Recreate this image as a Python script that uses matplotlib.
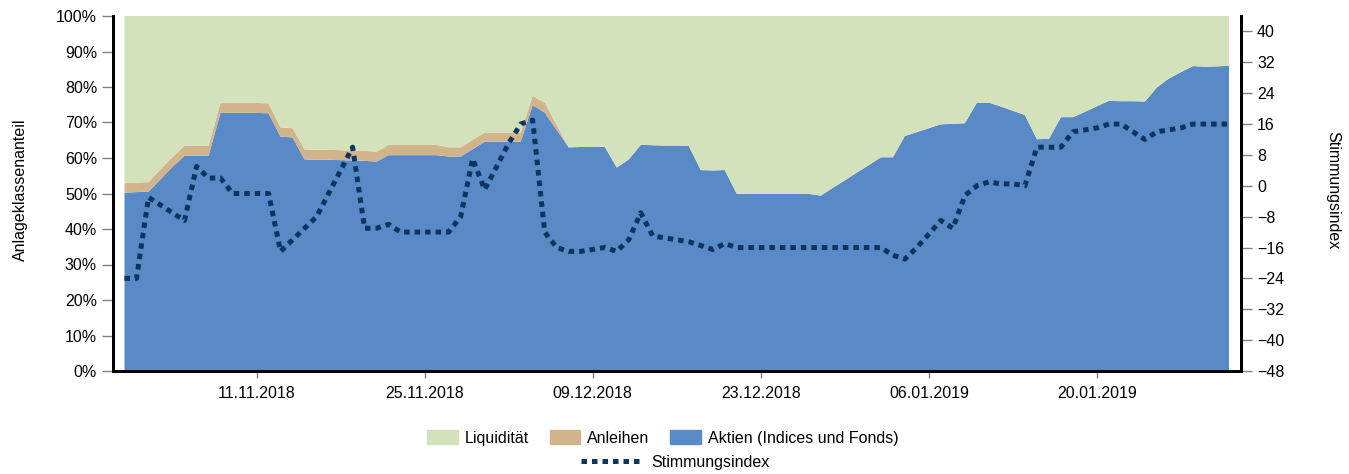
import matplotlib
matplotlib.use("Agg")
import matplotlib.pyplot as plt
import matplotlib.dates as mdates
from matplotlib.patches import Patch
from matplotlib.lines import Line2D
import numpy as np
import pandas as pd

plt.rcParams['font.family'] = ['Liberation Sans', 'DejaVu Sans']

dates = pd.date_range('2018-10-31', '2019-01-31', freq='D')

aktien = [50.2, 50.4, 50.5, 54.0, 57.5, 60.6, 60.6, 60.6, 72.8, 72.8,
          72.8, 72.7, 72.6, 66.0, 65.8, 59.6, 59.5, 59.5, 59.4, 59.3,
          59.2, 59.0, 60.8, 60.8, 60.8, 60.8, 60.8, 60.4, 60.4, 62.5,
          64.6, 64.6, 64.6, 64.6, 74.9, 72.8, 67.9, 63.0, 63.1, 63.1,
          63.2, 57.3, 59.6, 63.7, 63.6, 63.5, 63.5, 63.4, 56.6, 56.5,
          56.6, 49.9, 49.9, 49.9, 49.9, 49.9, 49.9, 49.9, 49.4, 51.6,
          53.7, 55.9, 58.0, 60.2, 60.2, 66.2, 67.3, 68.4, 69.5, 69.6,
          69.8, 75.6, 75.6, 74.5, 73.3, 72.1, 65.3, 65.4, 71.5, 71.5,
          73.0, 74.6, 76.1, 76.0, 76.0, 75.9, 79.9, 82.4, 84.2, 85.9,
          85.7, 85.8, 86.0]

anleihen = [2.7, 2.7, 2.7, 2.8, 2.8, 2.8, 2.8, 2.8, 2.8, 2.8,
            2.8, 2.8, 2.8, 2.6, 2.6, 2.8, 2.8, 2.8, 2.8, 2.8,
            2.8, 2.8, 2.9, 2.9, 2.9, 2.9, 2.9, 2.6, 2.6, 2.6,
            2.6, 2.6, 2.6, 2.6, 2.6, 2.8, 1.4, 0, 0, 0,
            0, 0, 0, 0, 0, 0, 0, 0, 0, 0,
            0, 0, 0, 0, 0, 0, 0, 0, 0, 0,
            0, 0, 0, 0, 0, 0, 0, 0, 0, 0,
            0, 0, 0, 0, 0, 0, 0, 0, 0, 0,
            0, 0, 0, 0, 0, 0, 0, 0, 0, 0,
            0, 0, 0]

liquiditaet = [100 - a - b for a, b in zip(aktien, anleihen)]

stimmung = [-24, -24, -3, -5, -7, -9, 5, 2, 2, -2,
            -2, -2, -2, -17, -14, -11, -8, -2, 4, 10,
            -11, -11, -10, -12, -12, -12, -12, -12, -8, 7,
            -1, 5, 11, 16, 17, -12, -16, -17, -17, -16.5,
            -16, -17, -14, -7, -13, -13.5, -14, -14.5, -15.5, -16.5,
            -15, -16, -16, -16, -16, -16, -16, -16, -16, -16,
            -16, -16, -16, -16, -18, -19, -16, -12.5, -9, -11,
            -2.5, 0, 1, 0.5, 0.5, 0, 10, 10, 10, 14,
            14.5, 15, 16, 16, 14, 12, 14, 14.5, 15, 16,
            16, 16, 16]

tick_dates = ['2018-11-11', '2018-11-25', '2018-12-09', '2018-12-23', '2019-01-06', '2019-01-20']

c_liq = '#D4E2BC'
c_anl = '#D2B48B'
c_akt = '#5A8AC6'
c_line = '#0B3561'

fig = plt.figure(figsize=(13.49, 4.74), dpi=100)
ax = fig.add_axes([113/1349, 1-371/474, (1241-113)/1349, (371-16)/474])

ax.stackplot(dates, aktien, anleihen, liquiditaet, colors=[c_akt, c_anl, c_liq], linewidth=0)
ax.set_ylim(0, 100)
ax.set_xlim(dates[0] - pd.Timedelta(hours=23), dates[-1] + pd.Timedelta(days=1))
ax.set_yticks(np.arange(0, 101, 10))
ax.set_yticklabels([f'{v}%' for v in range(0, 101, 10)])
ax.set_xticks(pd.to_datetime(tick_dates))
ax.xaxis.set_major_formatter(mdates.DateFormatter('%d.%m.%Y'))
ax.tick_params(axis='both', labelsize=11.5, color='#808080', length=8, width=1)
ax.tick_params(axis='x', length=5, pad=6)
ax.set_ylabel('Anlageklassenanteil', fontsize=11.5)
ax.yaxis.set_label_coords(-0.075, 0.51)

for s in ['left', 'bottom', 'right']:
    ax.spines[s].set_linewidth(2)
    ax.spines[s].set_color('black')
ax.spines['top'].set_visible(False)

ax2 = ax.twinx()
ax2.plot(dates, stimmung, color=c_line, linewidth=3.6, linestyle=(0, (1.1, 1.0)),
         dash_capstyle='butt')
ax2.set_ylim(-48, 44)
ax2.set_yticks(np.arange(-48, 41, 8))
ax2.tick_params(axis='y', labelsize=11.5, color='#808080', length=8, width=1)
ax2.set_ylabel('Stimmungsindex', fontsize=11.5, rotation=270)
ax2.yaxis.set_label_coords(1.088, 0.51)
for s in ['left', 'bottom', 'right']:
    ax2.spines[s].set_linewidth(2)
    ax2.spines[s].set_color('black')
ax2.spines['top'].set_visible(False)

handles = [Patch(color=c_liq, label='Liquidität'),
           Patch(color=c_anl, label='Anleihen'),
           Patch(color=c_akt, label='Aktien (Indices und Fonds)')]
leg1 = fig.legend(handles=handles, loc='center', bbox_to_anchor=(663/1349, 1-438/474),
                  ncol=3, frameon=False, fontsize=11.5, handlelength=1.9, handleheight=1.0,
                  columnspacing=1.3, handletextpad=0.45)
line_h = Line2D([0], [0], color=c_line, linewidth=3.6, linestyle=(0, (1.1, 1.0)), dash_capstyle='butt')
leg2 = fig.legend(handles=[line_h], labels=['Stimmungsindex'], loc='center',
                  bbox_to_anchor=(675/1349, 1-462/474), frameon=False, fontsize=11.5,
                  handlelength=3.8, handletextpad=0.6)

fig.savefig('out.png', dpi=100)
